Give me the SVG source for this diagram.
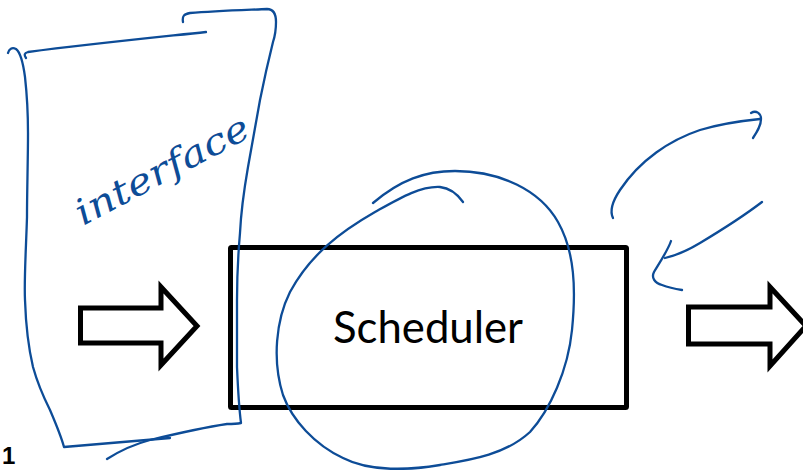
<svg xmlns="http://www.w3.org/2000/svg" width="803" height="470" viewBox="0 0 803 470">
  <defs>
    <style>
      .box { fill: #ffffff; stroke: #000000; stroke-width: 5; }
      .block-arrow { fill: #ffffff; stroke: #000000; stroke-width: 5; stroke-linejoin: miter; stroke-miterlimit: 10; }
      .label { font-family: Lato, "Liberation Sans", sans-serif; font-size: 44px; fill: #000000; }
      .ink { fill: none; stroke: #0d4c97; stroke-width: 2.3; stroke-linecap: round; stroke-linejoin: round; }
      .ink-text { font-family: "DejaVu Serif", "Liberation Serif", serif; font-style: italic; font-size: 36px; fill: #0d4c97; }
      .page-no { font-family: "Liberation Sans", Arial, sans-serif; font-weight: bold; font-size: 24px; fill: #000000; }
    </style>
  </defs>

  <rect width="803" height="470" fill="#ffffff"/>

  <!-- main block -->
  <g id="scheduler">
    <rect class="box" x="230.5" y="247.5" width="396" height="160" rx="1"/>
    <text class="label" x="428" y="343" text-anchor="middle" textLength="190" lengthAdjust="spacingAndGlyphs">Scheduler</text>
  </g>

  <!-- input / output block arrows -->
  <g id="arrow-in">
    <polygon class="block-arrow" points="80.5,308 161,308 161,287 197,326 161,365 161,343 80.5,343"/>
  </g>
  <g id="arrow-out">
    <polygon class="block-arrow" points="688.5,307 770,307 770,287 806,326 770,366 770,344 688.5,344"/>
  </g>

  <!-- page number -->
  <text class="page-no" x="2" y="464">1</text>

  <!-- handwritten annotations -->
  <g id="interface">
    <!-- left edge -->
    <path class="ink" d="M8,53 C9,49 12,47 16,49 C20,52 23,62 25,77 C27,95 28,115 28,133 C28,160 27,190 27,217 C26,250 24,280 25,300 C26,330 29,350 33,367 C38,385 44,398 50,410 C56,424 61,436 64,447 L170,438"/>
    <!-- top edge -->
    <path class="ink" d="M26,58 C24,55 24,53 28,52 C90,44 150,38 206,32"/>
    <!-- right edge -->
    <path class="ink" d="M183,22 C182,16 184,14 190,13 C215,11 245,10 267,9 C273,9 276,13 276,22 C276,30 275,36 273,42 C268,62 264,80 260,100 C256,122 252,145 248,167 C244,190 241,212 240,233 C238,256 237,280 237,300 C237,325 237,345 237,367 C238,390 239,408 241,423 C236,424 230,424 227,424 C200,428 175,434 150,440 C135,444 118,452 107,459"/>
    <text class="ink-text" transform="translate(83,226) rotate(-28)" textLength="192" lengthAdjust="spacingAndGlyphs">interface</text>
  </g>

  <g id="loop">
    <path class="ink" d="M373,203 C400,180 425,171 455,171 C500,171 540,190 558,222 C575,252 576,290 572,330 C568,370 550,410 530,432 C505,455 470,460 440,465 C410,470 370,472 343,458 C315,445 292,420 283,395 C272,360 276,320 290,292 C310,255 340,232 375,212 C400,198 420,186 440,187 C450,188 458,195 463,202"/>
  </g>

  <g id="feedback">
    <path class="ink" d="M613,218 C610,212 612,202 620,190 C640,160 670,140 700,130 C720,124 740,121 760,119"/>
    <path class="ink" d="M751,113 C756,110 761,113 761,119 C761,126 757,132 753,138"/>
    <path class="ink" d="M762,202 C745,215 725,228 700,243 C690,249 678,255 665,258"/>
    <path class="ink" d="M671,241 C668,250 660,262 654,272 C651,278 655,283 662,285 C670,288 676,289 682,290"/>
  </g>
</svg>
